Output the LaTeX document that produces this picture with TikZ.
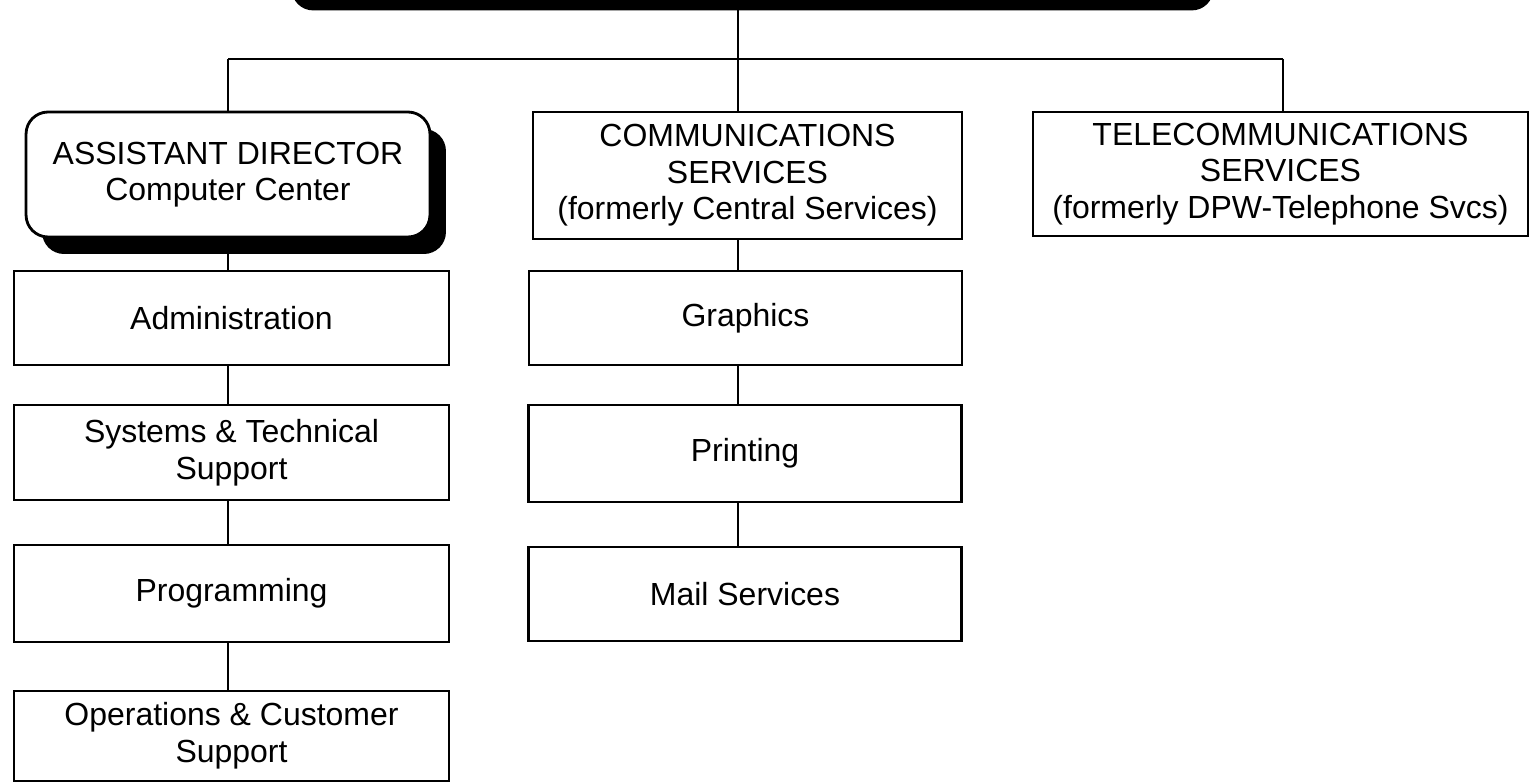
\documentclass[tikz,border=0pt]{standalone}
\usepackage{fontspec}
\setmainfont{Liberation Sans}
\usetikzlibrary{shadows}

\begin{document}
\begin{tikzpicture}
[x=0.02cm,y=-0.02cm,line width=1.6pt,
unit/.style={draw,fill=white,align=center,inner sep=0pt,
  font=\fontsize{18.2}{20.8}\selectfont},
left/.style={unit,minimum width=8.7cm},
mid/.style={unit,minimum width=8.66cm},
chief/.style={unit,rounded corners=0.44cm,
  drop shadow={shadow xshift=0.32cm,shadow yshift=-0.34cm,fill=black,opacity=1}},
head/.style={draw,fill=black,rounded corners=0.4cm}]

\useasboundingbox (0,0) rectangle (1531,783);

% head office, cut off at the top
\node (head) [head,minimum width=18.38cm,minimum height=1.4cm] at (752.5,-26) {};

\coordinate (lbus) at (228,59);
\coordinate (cbus) at (738,59);
\coordinate (rbus) at (1283,59);
\draw (lbus) -- (rbus);
\draw (head.south -| cbus) -- (cbus);

% left branch
\node (ad) [chief,minimum width=8.08cm,minimum height=2.5cm] at (228,174.5)
  {ASSISTANT DIRECTOR\\Computer Center};
\node (admin) [left,minimum height=1.88cm] at (231.5,318) {Administration};
\node (sys) [left,minimum height=1.9cm] at (231.5,452.5)
  {Systems \& Technical\\Support};
\node (prog) [left,minimum height=1.94cm] at (231.5,593.5) {Programming};
\node (ops) [left,minimum height=1.8cm] at (231.5,736)
  {Operations \& Customer\\Support};

\draw (lbus) -- (ad.north -| lbus);
\draw (ad.south -| lbus) -- (admin.north -| lbus);
\draw (admin.south -| lbus) -- (sys.north -| lbus);
\draw (sys.south -| lbus) -- (prog.north -| lbus);
\draw (prog.south -| lbus) -- (ops.north -| lbus);

% middle branch
\node (comm) [mid,minimum width=8.58cm,minimum height=2.54cm] at (747.5,175.5)
  {COMMUNICATIONS\\SERVICES\\(formerly Central Services)};
\node (graph) [mid,minimum height=1.88cm] at (745.5,318) {Graphics};
\node (print) [mid,minimum height=1.94cm] at (745,453.5) {Printing};
\node (mail) [mid,minimum height=1.88cm] at (745,594) {Mail Services};

\draw (cbus) -- (comm.north -| cbus);
\draw (comm.south -| cbus) -- (graph.north -| cbus);
\draw (graph.south -| cbus) -- (print.north -| cbus);
\draw (print.south -| cbus) -- (mail.north -| cbus);

% right branch
\node (tele) [unit,minimum width=9.9cm,minimum height=2.48cm] at (1280.5,174)
  {TELECOMMUNICATIONS\\SERVICES\\(formerly DPW-Telephone Svcs)};
\draw (rbus) -- (tele.north -| rbus);
\end{tikzpicture}
\end{document}
